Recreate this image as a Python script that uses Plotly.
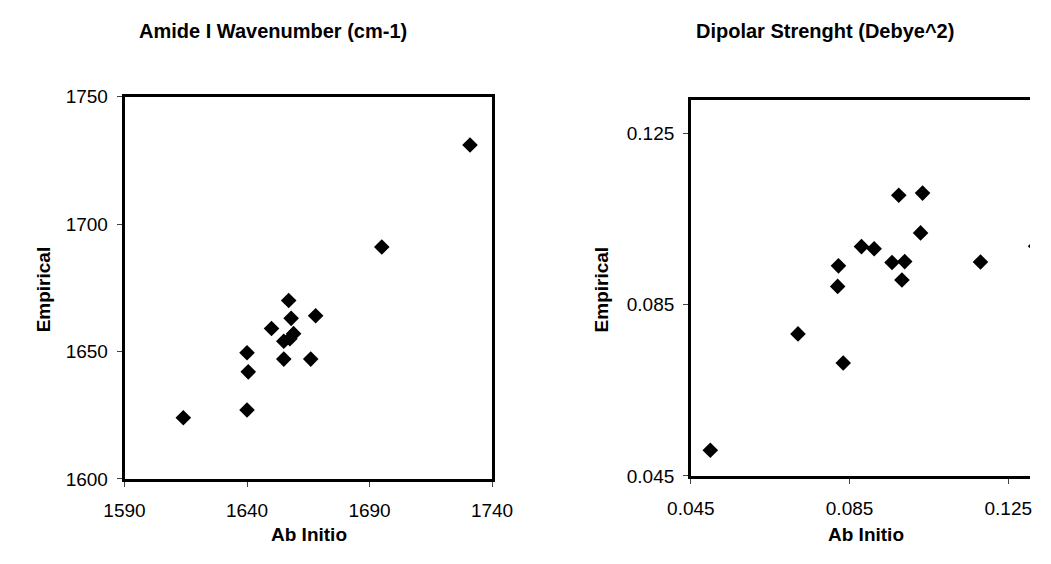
import plotly.graph_objects as go

W, H = 1051, 564

# Left panel: Amide I wavenumber (cm-1)
amide_ab_initio = [1731, 1695, 1657, 1658, 1668, 1650, 1659, 1657.5, 1655, 1640, 1640.5, 1655, 1666, 1640, 1614]
amide_empirical = [1731, 1691, 1670, 1663, 1664, 1659, 1657, 1655, 1654, 1649.5, 1642, 1647, 1647, 1627, 1624]
amide_ticks_x = [1590, 1640, 1690, 1740]
amide_ticks_y = [1600, 1650, 1700, 1750]

# Right panel: dipolar strength (Debye^2)
dip_ab_initio = [0.0499, 0.0720, 0.0834, 0.0820, 0.0822, 0.0880, 0.0912, 0.0957, 0.0989, 0.0982, 0.0974, 0.1034, 0.1029, 0.1180, 0.1319]
dip_empirical = [0.0510, 0.0782, 0.0714, 0.0893, 0.0941, 0.0986, 0.0981, 0.0949, 0.0951, 0.0908, 0.1106, 0.1111, 0.1018, 0.0950, 0.0987]
dip_ticks = [0.045, 0.085, 0.125]
dip_tick_text = ["0.045", "0.085", "0.125"]

FONT = "Liberation Sans, Arial, Helvetica, sans-serif"

def px(x):
    return x / W

def py(y):
    return 1 - y / H

fig = go.Figure()
marker = dict(symbol="diamond", size=12, color="black", line=dict(width=0))
fig.add_trace(go.Scatter(x=amide_ab_initio, y=amide_empirical, mode="markers", marker=marker,
                         xaxis="x", yaxis="y", showlegend=False))
fig.add_trace(go.Scatter(x=dip_ab_initio, y=dip_empirical, mode="markers", marker=marker,
                         xaxis="x2", yaxis="y2", showlegend=False))

axis_common = dict(showgrid=False, zeroline=False, showline=True, linecolor="black", linewidth=2.5,
                   ticks="outside", ticklen=5, tickwidth=1, tickcolor="#444",
                   tickfont=dict(family=FONT, size=19, color="black"))

fig.update_layout(
    width=W, height=H, margin=dict(l=0, r=0, t=0, b=0),
    paper_bgcolor="white", plot_bgcolor="white",
    xaxis=dict(domain=[px(105), px(489)], range=[1590, 1740], anchor="y",
               tickvals=amide_ticks_x, ticktext=[str(v) for v in amide_ticks_x],
               mirror=True, ticklabelstandoff=8, **axis_common),
    yaxis=dict(domain=[py(487), py(90)], range=[1600, 1750], anchor="x",
               tickvals=amide_ticks_y, ticktext=[str(v) for v in amide_ticks_y],
               mirror=True, ticklabelstandoff=5, **axis_common),
    xaxis2=dict(domain=[px(696.7), 1.0], range=[0.045, 0.13048], anchor="y2",
                tickvals=dip_ticks, ticktext=dip_tick_text,
                mirror=True, ticklabelstandoff=8, **axis_common),
    yaxis2=dict(domain=[py(484), py(93.3)], range=[0.045, 0.1329], anchor="x2",
                tickvals=dip_ticks, ticktext=dip_tick_text,
                mirror=False, ticklabelstandoff=5, **axis_common),
)

ann = [
    dict(text="<b>Amide I Wavenumber (cm-1)</b>", x=px(260), y=py(22), size=20),
    dict(text="<b>Dipolar Strenght (Debye^2)</b>", x=px(837), y=py(22), size=20),
    dict(text="<b>Ab Initio</b>", x=px(298), y=py(545), size=19),
    dict(text="<b>Ab Initio</b>", x=px(880), y=py(545), size=19),
    dict(text="<b>Empirical</b>", x=px(20), y=py(290), textangle=-90, size=19),
    dict(text="<b>Empirical</b>", x=px(603), y=py(290), textangle=-90, size=19),
]
for a in ann:
    size = a.pop("size")
    fig.add_annotation(xref="paper", yref="paper", showarrow=False, xanchor="center", yanchor="middle",
                       font=dict(family=FONT, size=size, color="black"), **a)

fig.write_html("out.html")
